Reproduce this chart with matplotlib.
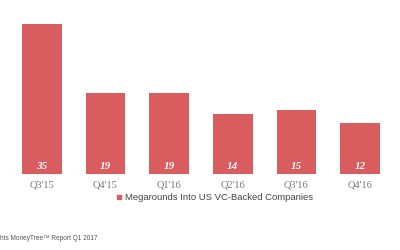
import matplotlib.pyplot as plt
from matplotlib.lines import Line2D

quarters = ["Q3'15", "Q4'15", "Q1'16", "Q2'16", "Q3'16", "Q4'16"]
megarounds = [35, 19, 19, 14, 15, 12]
series_name = "Megarounds Into US VC-Backed Companies"
source_note = "Source: PwC | CB Insights MoneyTree\u2122 Report Q1 2017"

bar_color = "#d95c5e"

fig = plt.figure(figsize=(4, 2.5), dpi=100)
ax = fig.add_axes([0.025, 0.304, 0.955, 0.6])

x = range(len(quarters))
bars = ax.bar(x, megarounds, width=0.62, color=bar_color, zorder=2)
ax.set_xlim(-0.5, len(quarters) - 0.5)
ax.set_ylim(0, max(megarounds))
ax.axhline(0, color="#e6e6e6", lw=0.8, zorder=1)

# value labels at the foot of each bar
for xi, v in zip(x, megarounds):
    ax.text(xi, 0.8, str(v), ha="center", va="bottom", color="white",
            fontsize=8, fontweight="bold", fontstyle="italic",
            family="Liberation Serif", zorder=3)

ax.set_xticks(list(x), labels=quarters)
ax.tick_params(axis="x", length=0, pad=5, labelsize=7.5, labelcolor="#777777")
for lbl in ax.get_xticklabels():
    lbl.set_family("Liberation Serif")
ax.set_yticks([])
for s in ax.spines.values():
    s.set_visible(False)

# legend
handle = Line2D([], [], marker="s", color=bar_color, lw=0, markersize=3)
fig.legend([handle], [series_name], loc="center", bbox_to_anchor=(0.537, 0.208),
           frameon=False, handlelength=0.6, handletextpad=0.3,
           prop={"family": "Liberation Sans", "size": 6.8}, labelcolor="#444444")

# source note, cut off at the left edge like the original crop
fig.text(-0.17, 0.044, source_note, fontsize=4.7, color="#555555",
         family="Liberation Sans", va="center", ha="left")

fig.savefig("out.png", dpi=100)
